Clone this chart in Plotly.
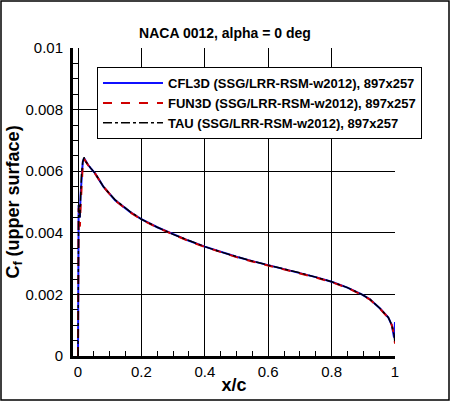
import plotly.graph_objects as go

# Upper-surface skin friction, NACA 0012 at alpha = 0
x_c = [0.0, 0.0005, 0.001, 0.002, 0.003, 0.004, 0.006, 0.008, 0.011, 0.015, 0.019,
       0.025, 0.032, 0.04, 0.054, 0.08, 0.117, 0.164, 0.2, 0.25, 0.3, 0.35, 0.4,
       0.45, 0.5, 0.55, 0.6, 0.65, 0.7, 0.75, 0.8, 0.85, 0.895, 0.92, 0.953,
       0.979, 0.99, 0.997, 1.0]

cf_cfl3d = [0.0, 0.0025, 0.0040, 0.0049, 0.0048, 0.0046, 0.0045, 0.0052, 0.0059, 0.0063,
            0.00643, 0.0063, 0.0062, 0.0061, 0.00593, 0.0055, 0.00506, 0.00468, 0.00444,
            0.00418, 0.00395, 0.00374, 0.00355, 0.00338, 0.00322, 0.00308, 0.00295,
            0.00283, 0.0027, 0.00256, 0.00241, 0.00222, 0.002, 0.00185, 0.00154,
            0.00125, 0.001, 0.0006, 0.0011]

cf_fun3d = [0.0, 0.0024, 0.0039, 0.0048, 0.0047, 0.0045, 0.0042, 0.0048, 0.0057, 0.0062,
            0.0064, 0.0063, 0.0062, 0.0061, 0.00592, 0.0055, 0.00505, 0.00467, 0.00443,
            0.00417, 0.00394, 0.00373, 0.00354, 0.00337, 0.00321, 0.00307, 0.00294,
            0.00282, 0.00269, 0.00255, 0.0024, 0.00221, 0.00199, 0.00184, 0.00153,
            0.00124, 0.001, 0.0007, 0.0004]

cf_tau = [0.0, 0.0025, 0.0040, 0.0049, 0.0048, 0.0046, 0.0045, 0.0051, 0.0059, 0.0063,
          0.00645, 0.0063, 0.0062, 0.0061, 0.00593, 0.0055, 0.00507, 0.00469, 0.00444,
          0.00418, 0.00395, 0.00374, 0.00355, 0.00338, 0.00322, 0.00308, 0.00295,
          0.00283, 0.0027, 0.00256, 0.00241, 0.00222, 0.002, 0.00185, 0.00154,
          0.00125, 0.001, 0.0007, 0.0004]

names = [
    "CFL3D (SSG/LRR-RSM-w2012), 897x257",
    "FUN3D (SSG/LRR-RSM-w2012), 897x257",
    "TAU (SSG/LRR-RSM-w2012), 897x257",
]

fig = go.Figure()
fig.add_trace(go.Scatter(x=x_c, y=cf_cfl3d, mode="lines", name=names[0],
                         line=dict(color="#1010ff", width=2)))
fig.add_trace(go.Scatter(x=x_c, y=cf_fun3d, mode="lines", name=names[1],
                         line=dict(color="#d00000", width=2, dash="dash")))
fig.add_trace(go.Scatter(x=x_c, y=cf_tau, mode="lines", name=names[2],
                         line=dict(color="black", width=1.5, dash="dashdot")))

axis_font = dict(family="Liberation Sans, Arial, sans-serif", size=15, color="black")

fig.update_layout(
    width=450,
    height=401,
    margin=dict(l=73, r=55, t=48, b=45),
    paper_bgcolor="white",
    plot_bgcolor="white",
    font=axis_font,
    title=dict(text="<b>NACA 0012, alpha = 0 deg</b>", x=0.5, xref="container",
               y=1 - 33 / 401, yref="container", yanchor="middle",
               font=dict(size=14, family="Liberation Sans, Arial, sans-serif")),
    legend=dict(
        x=0.0745, y=0.938, xanchor="left", yanchor="top",
        bgcolor="white", bordercolor="black", borderwidth=1,
        font=dict(size=13, family="Liberation Sans, Arial, sans-serif", weight="bold"),
        itemwidth=60,
    ),
    showlegend=True,
)

fig.update_xaxes(
    range=[-0.0158, 1.0], tickvals=[0, 0.2, 0.4, 0.6, 0.8, 1],
    ticktext=["0", "0.2", "0.4", "0.6", "0.8", "1"],
    automargin=False,
    showgrid=True, gridcolor="black", gridwidth=1, zeroline=False,
    showline=True, linecolor="black", linewidth=3,
    ticks="inside", ticklen=6, tickcolor="black",
    minor=dict(dtick=0.05, tick0=0, ticks="inside", ticklen=5, tickcolor="black", showgrid=False),
    title=dict(text="<b>x/c</b>", font=dict(size=18), standoff=0),
)
fig.update_yaxes(
    range=[0, 0.01], tickvals=[0, 0.002, 0.004, 0.006, 0.008, 0.01],
    ticktext=["0", "0.002", "0.004", "0.006", "0.008", "0.01"],
    automargin=False,
    showgrid=True, gridcolor="black", gridwidth=1, zeroline=False,
    showline=True, linecolor="black", linewidth=3,
    ticks="inside", ticklen=6, tickcolor="black", ticklabelstandoff=4,
    minor=dict(dtick=0.0005, tick0=0, ticks="inside", ticklen=5, tickcolor="black", showgrid=False),
    title=dict(text="<b>C<sub>f</sub> (upper surface)</b>", font=dict(size=18), standoff=0),
)

# frame around the whole picture
fig.add_shape(type="rect", xref="paper", yref="paper",
              x0=-72 / 322, x1=376 / 322, y0=-44 / 308, y1=355 / 308,
              line=dict(color="black", width=1.5), layer="above")

# page has default body margin, drop it so the figure sits at the window corner
fig.write_html("out.html", config={"displayModeBar": False},
               post_script="document.body.style.margin='0';")
